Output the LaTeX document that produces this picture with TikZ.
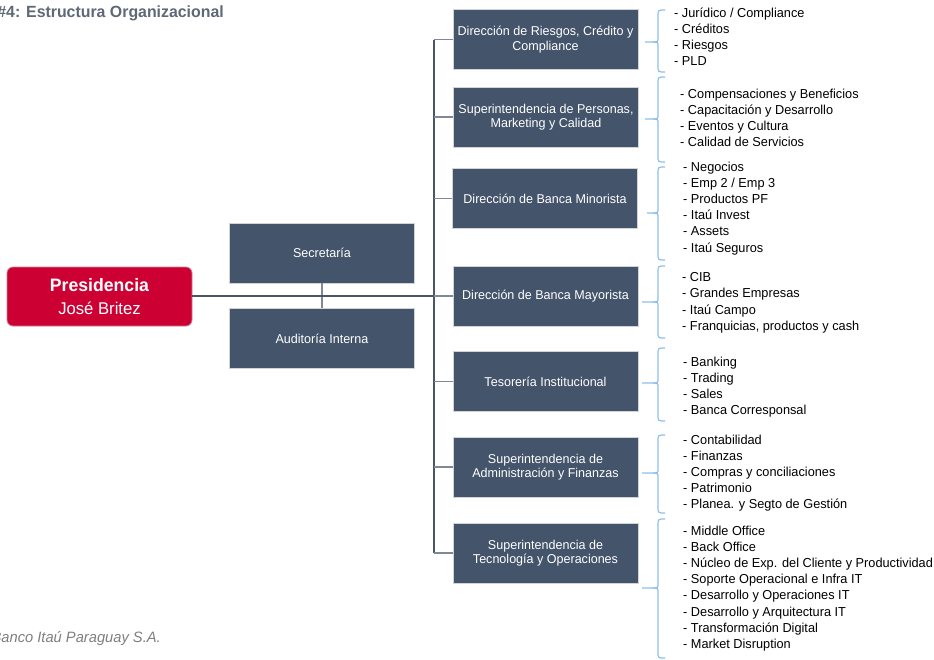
\documentclass[tikz,border=0pt]{standalone}
\usepackage{fontspec}
\setmainfont{Liberation Sans}[FakeStretch=0.98]
\definecolor{boxfill}{HTML}{44546A}
\definecolor{boxborder}{HTML}{D0D4DA}
\definecolor{presred}{HTML}{CC0033}
\definecolor{mainline}{HTML}{4A5668}
\definecolor{branchline}{HTML}{7F8894}
\definecolor{bracecol}{HTML}{8DBFE8}
\definecolor{titlecol}{HTML}{5E6877}
\definecolor{footcol}{HTML}{7F7F7F}
\begin{document}
\begin{tikzpicture}[x=1pt,y=-1pt,
  orgbox/.style={draw=boxborder, line width=0.8pt, fill=boxfill, text=white,
    minimum width=185pt, minimum height=60pt, inner sep=0pt, align=center,
    font=\fontsize{12.8}{14.5}\selectfont},
  presbox/.style={draw=boxborder!60!presred, line width=0.8pt, fill=presred, text=white,
    rounded corners=6pt, minimum width=185pt, minimum height=59pt, inner sep=0pt, align=center},
  itemlist/.style={anchor=north west, inner sep=0pt, align=left,
    font=\fontsize{13}{16.2}\selectfont},
  mainconn/.style={draw=mainline, line width=2.4pt},
  vconn/.style={draw=mainline, line width=1.8pt},
  branch/.style={draw=branchline, line width=1.4pt},
  bracestyle/.style={draw=bracecol, line width=1.2pt, line join=round}
]
\useasboundingbox (0,0) rectangle (934,659);

% title and footer
\node[anchor=east, inner sep=0pt, text=titlecol, font=\fontsize{16.2}{18}\selectfont\bfseries] (title) at (224,13) {\#4: Estructura Organizacional};
\node[anchor=east, inner sep=0pt, text=footcol, font=\fontsize{15}{17}\selectfont\itshape] (foot) at (161,639) {Banco Itaú Paraguay S.A.};

% left side
\node[presbox] (pres) at (99.5,296.5) {{\fontsize{18}{20}\selectfont\bfseries Presidencia}\\[10pt]{\fontsize{17}{19}\selectfont José Britez}};
\node[orgbox] (secr) at (322,253) {Secretaría};
\node[orgbox] (audi) at (322,338.5) {Auditoría Interna};

% right boxes
\node[orgbox] (b1) at (545.5,39.5) {Dirección de Riesgos, Crédito y\\Compliance};
\node[orgbox] (b2) at (546,117) {Superintendencia de Personas,\\Marketing y Calidad};
\node[orgbox] (b3) at (545,198.5) {Dirección de Banca Minorista};
\node[orgbox] (b4) at (545.5,296) {Dirección de Banca Mayorista};
\node[orgbox] (b5) at (545.5,381.5) {Tesorería Institucional};
\node[orgbox] (b6) at (545.5,467) {Superintendencia de\\Administración y Finanzas};
\node[orgbox] (b7) at (545.5,553) {Superintendencia de\\Tecnología y Operaciones};

% connectors
\coordinate (vtop) at (434,39.5);
\coordinate (vbot) at (434,553);
\coordinate (hub) at (434,296);
\path[vconn] (vtop) -- (vbot);
\foreach \b in {b1,b2,b3,b5,b6,b7}{
  \path[branch] (vtop |- \b.west) -- (\b.west);
}
\path[branch] (secr.south) -- (audi.north);
\path[mainconn] (pres.east |- hub) -- (hub);
\path[branch] (hub) -- (b4.west);

% braces: top, bottom, tip y, tip x
\newcommand{\orgbrace}[4]{%
  \path[bracestyle] (665,#1) .. controls (658,#1) .. (658,#1+6) -- (658,#3-5)
     .. controls (658,#3) .. (653,#3) -- (#4,#3);
  \path[bracestyle] (665,#2) .. controls (658,#2) .. (658,#2-6) -- (658,#3+5)
     .. controls (658,#3) .. (653,#3);
}
\orgbrace{10}{72}{42}{645}
\orgbrace{77}{162}{119}{645}
\orgbrace{167}{260}{213}{647}
\orgbrace{266}{338}{302}{642}
\orgbrace{348}{421}{383}{642}
\orgbrace{435}{513}{473}{642}
\orgbrace{519}{658}{588}{642}

% lists
\node[itemlist] (l1) at (674,7.5) {- Jurídico / Compliance\\- Créditos\\- Riesgos\\- PLD};
\node[itemlist] (l2) at (680,88.5) {- Compensaciones y Beneficios\\- Capacitación y Desarrollo\\- Eventos y Cultura\\- Calidad de Servicios};
\node[itemlist] (l3) at (683,161.5) {- Negocios\\- Emp 2 / Emp 3\\- Productos PF\\- Itaú Invest\\- Assets\\- Itaú Seguros};
\node[itemlist] (l4) at (682,272.5) {- CIB\\- Grandes Empresas\\- Itaú Campo\\- Franquicias, productos y cash};
\node[itemlist] (l5) at (683,356.5) {- Banking\\- Trading\\- Sales\\- Banca Corresponsal};
\node[itemlist] (l6) at (683,434.5) {- Contabilidad\\- Finanzas\\- Compras y conciliaciones\\- Patrimonio\\- Planea. y Segto de Gestión};
\node[itemlist] (l7) at (683,525.5) {- Middle Office\\- Back Office\\- Núcleo de Exp. del Cliente y Productividad\\- Soporte Operacional e Infra IT\\- Desarrollo y Operaciones IT\\- Desarrollo y Arquitectura IT\\- Transformación Digital\\- Market Disruption};
\end{tikzpicture}
\end{document}
